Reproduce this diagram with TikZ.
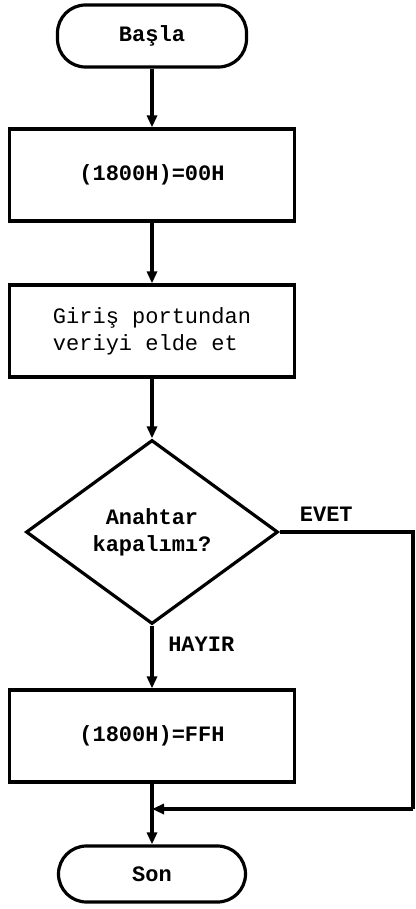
\documentclass[tikz,border=0pt]{standalone}
\usepackage{fontspec}
\setmonofont{Liberation Mono}
\usetikzlibrary{shapes.geometric,arrows.meta}

\newcommand{\chartfont}{\ttfamily\fontsize{11}{13.5}\selectfont}

\tikzset{
    flowline/.style={line width=1.6pt},
    flowarrow/.style={flowline, -{Triangle[length=6pt,width=5pt]}},
    terminal/.style={draw, line width=1.6pt, rectangle, rounded corners=14pt,
        font=\chartfont\bfseries, inner sep=0pt},
    process/.style={draw, line width=1.6pt, rectangle,
        minimum width=142.5pt, minimum height=46pt, inner sep=0pt},
    decision/.style={draw, line width=1.6pt, diamond, inner sep=0pt,
        minimum width=126pt, minimum height=92pt, font=\chartfont\bfseries,
        align=center},
    answer/.style={font=\chartfont\bfseries}
}

\begin{document}
\begin{tikzpicture}[x=0.5pt, y=-0.5pt]

    \useasboundingbox (0,0) rectangle (416,909);

    \node [terminal, minimum width=94.5pt, minimum height=31pt]
        (start) at (152,36) {Başla};
    \node [process, font=\chartfont\bfseries]
        (clear) at (152,175) {(1800H)=00H};
    \node [process, font=\chartfont, align=left]
        (read) at (152,331) {Giriş portundan\\veriyi elde et};
    \node [decision]
        (test) at (152,532) {Anahtar\\kapalımı?};
    \node [process, font=\chartfont\bfseries]
        (set) at (152,736) {(1800H)=FFH};
    \node [terminal, minimum width=93.5pt, minimum height=28pt]
        (stop) at (152,874) {Son};

    \coordinate (join) at (152,809);
    \coordinate (edge) at (413,532);

    \draw [flowarrow] (start) -- (clear);
    \draw [flowarrow] (clear) -- (read);
    \draw [flowarrow] (read) -- (test);
    \draw [flowarrow] (test) -- (set)
        node [answer, pos=0.3, right, xshift=4pt] {HAYIR};
    \draw [flowline] (set) -- (join);
    \draw [flowarrow] (join) -- (stop);

    \draw [flowline]
        (test.east) -- (edge)
            node [answer, pos=0.35, above, yshift=1pt] {EVET}
        -- (edge |- join)
        ;
    \draw [flowarrow] (edge |- join) -- (join);

\end{tikzpicture}
\end{document}
